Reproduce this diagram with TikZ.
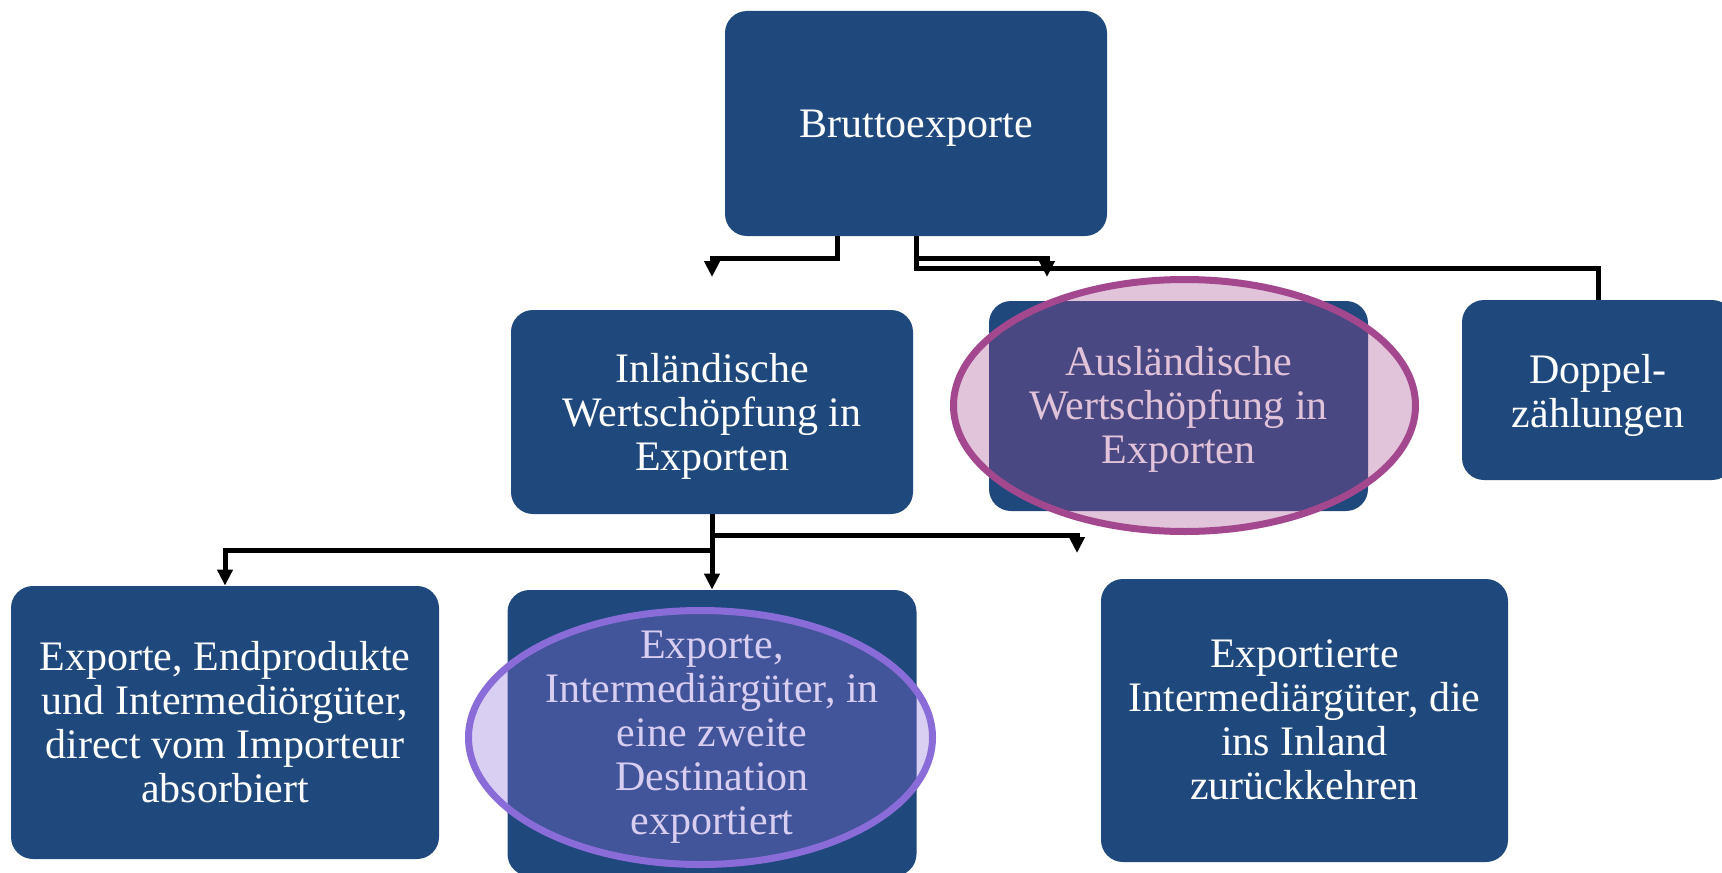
\documentclass[tikz,border=0pt]{standalone}
\usepackage{fontspec}
\setmainfont{Liberation Serif}
\usetikzlibrary{arrows.meta,shapes.geometric}
\definecolor{boxblue}{HTML}{1F497D}
\definecolor{pinkline}{HTML}{A3488E}
\definecolor{violetline}{HTML}{8A6CD8}
\tikzset{
  box/.style={draw=none, fill=boxblue, rounded corners=11pt, inner sep=0pt},
  txt/.style={text=white, align=center, font=\fontsize{21}{22}\selectfont, inner sep=0pt},
  conn/.style={line width=2.5pt, draw=black},
  tip/.style={-{Triangle[width=7.5pt,length=8pt]}},
  halo/.style={ellipse, line width=3.5pt, inner sep=0pt, fill opacity=0.33}
}
\begin{document}
\begin{tikzpicture}[x=0.5pt,y=-0.5pt]
\useasboundingbox (0,0) rectangle (1722,872);
% boxes
\node[box, minimum width=191pt, minimum height=112.5pt] (brutto) at (916,123.5) {};
\node[box, minimum width=201pt, minimum height=102pt] (inl) at (712,412) {};
\node[box, minimum width=189.5pt, minimum height=105pt] (ausl) at (1178.5,406) {};
\node[box, minimum width=136pt, minimum height=90pt] (doppel) at (1598,390) {};
\node[box, minimum width=214pt, minimum height=136.5pt] (endp) at (225,722.5) {};
\node[box, minimum width=204.5pt, minimum height=143pt] (inter) at (712,733) {};
\node[box, minimum width=203.5pt, minimum height=141.5pt] (ret) at (1304.5,720.5) {};
% texts
\node[txt] (bruttoT) at ([yshift=-2.5pt]brutto.center) {Bruttoexporte};
\node[txt] (inlT) at ([yshift=-2pt]inl.center) {Inländische\\Wertschöpfung in\\Exporten};
\node[txt] (auslT) at ([yshift=-1.5pt]ausl.center) {Ausländische\\Wertschöpfung in\\Exporten};
\node[txt] (doppelT) at ([yshift=-2.5pt]doppel.center) {Doppel-\\zählungen};
\node[txt] (endpT) at (endp.center) {Exporte, Endprodukte\\und Intermediörgüter,\\direct vom Importeur\\absorbiert};
\node[txt] (interT) at ([yshift=-2pt]inter.center) {Exporte,\\Intermediärgüter, in\\eine zweite\\Destination\\exportiert};
\node[txt] (retT) at ([yshift=0.5pt]ret.center) {Exportierte\\Intermediärgüter, die\\ins Inland\\zurückkehren};
% free arrow ends
\coordinate (inlTip) at (712,277);
\coordinate (auslTip) at (1047,277);
\coordinate (retTip) at (1077,553);
% connectors
\draw[conn,tip] ([xshift=-39.5pt]brutto.south) -- ++(0,22) -| (inlTip);
\draw[conn,tip] (brutto.south) -- ++(0,22) -| (auslTip);
\draw[conn] (brutto.south) -- ++(0,32) -| (doppel.north);
\draw[conn,tip] (inl.south) -- ++(0,36) -| (endp.north);
\draw[conn,tip] (inl.south) -- (inter.north);
\draw[conn,tip] (inl.south) -- ++(0,21) -| (retTip);
% highlight ellipses
\node[halo, draw=pinkline, fill=pinkline, minimum width=231pt, minimum height=126pt] (auslring) at (1184.5,405.5) {};
\node[halo, draw=violetline, fill=violetline, minimum width=232pt, minimum height=127pt] (interring) at (700.5,737.5) {};
\end{tikzpicture}
\end{document}
